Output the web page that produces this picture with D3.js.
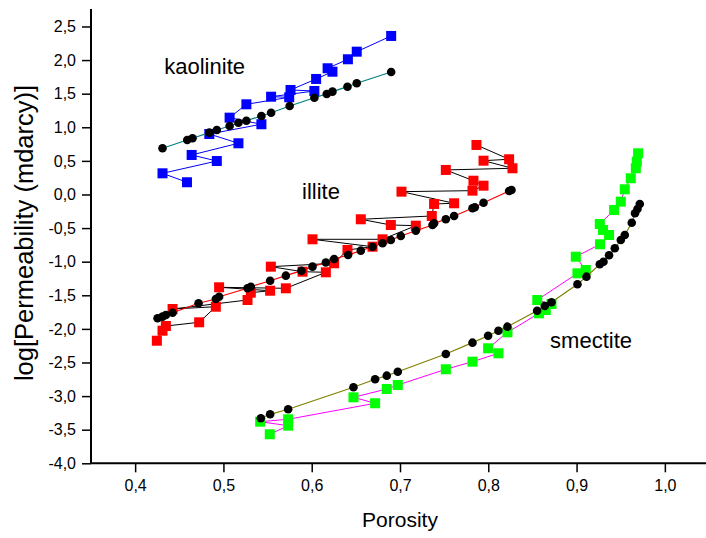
<!DOCTYPE html>
<html>
<head>
<meta charset="utf-8">
<script src="https://cdn.jsdelivr.net/npm/d3@7"></script>
<style>
  html, body { margin: 0; padding: 0; background: #fff; }
  svg { display: block; }
  text { font-family: "Liberation Sans", Arial, sans-serif; }
</style>
</head>
<body>
<svg id="chart" width="706" height="538"></svg>
<script>
// ---- Data (porosity, log permeability) ----
const kaolinitePorosityMeas = [0.4587,0.431,0.4925,0.464,0.517,0.484,0.543,0.507,0.526,0.5745,0.554,0.603,0.576,0.605,0.6235,0.618,0.641,0.651,0.690];
const kaolinitePermMeas     = [0.182,0.315,0.498,0.588,0.762,0.900,1.045,1.143,1.342,1.446,1.455,1.540,1.555,1.719,1.827,1.878,2.012,2.125,2.359];
const kaolinitePorosityModel = [0.431,0.459,0.465,0.484,0.4925,0.507,0.517,0.526,0.543,0.554,0.575,0.603,0.617,0.6235,0.6405,0.651,0.690];
const kaolinitePermModel     = [0.688,0.811,0.836,0.920,0.960,1.019,1.068,1.098,1.168,1.217,1.317,1.440,1.496,1.530,1.604,1.655,1.823];

const illitePorosityMeas = [0.4246,0.431,0.4348,0.4725,0.4914,0.4424,0.5273,0.531,0.5529,0.4951,0.5707,0.616,0.5896,0.5537,0.6254,0.6405,0.6689,0.6009,0.6802,0.7179,0.6896,0.6556,0.736,0.7386,0.7613,0.7017,0.7821,0.7946,0.7832,0.7519,0.8274,0.7946,0.8236,0.7866];
const illitePermMeas     = [-2.176,-2.027,-1.957,-1.902,-1.670,-1.704,-1.570,-1.461,-1.432,-1.381,-1.396,-1.158,-1.149,-1.074,-1.024,-0.826,-0.777,-0.667,-0.667,-0.464,-0.454,-0.369,-0.320,-0.141,-0.131,0.042,0.057,0.131,0.205,0.365,0.390,0.503,0.524,0.737];
const illitePorosityModel = [0.4254,0.431,0.4348,0.4424,0.4718,0.4914,0.4951,0.5273,0.531,0.5529,0.5707,0.5884,0.6009,0.616,0.6254,0.6412,0.6556,0.6689,0.6802,0.6896,0.7009,0.7179,0.7368,0.7386,0.7519,0.7613,0.7821,0.7847,0.7946,0.8236,0.8263];
const illitePermModel     = [-1.842,-1.818,-1.793,-1.759,-1.619,-1.555,-1.521,-1.396,-1.372,-1.283,-1.208,-1.134,-1.074,-1.012,-0.960,-0.900,-0.836,-0.777,-0.726,-0.677,-0.618,-0.539,-0.454,-0.429,-0.369,-0.320,-0.205,-0.190,-0.122,0.052,0.067];

const smectitePorosityMeas = [0.5525,0.5733,0.5416,0.5733,0.6718,0.6473,0.685,0.6975,0.7519,0.7821,0.8115,0.7998,0.8217,0.8575,0.8651,0.8716,0.8555,0.9010,0.9104,0.8991,0.9266,0.9368,0.930,0.9263,0.9425,0.9501,0.9546,0.9614,0.9671,0.9682,0.9697];
const smectitePermMeas     = [-3.568,-3.440,-3.381,-3.345,-3.107,-3.018,-2.894,-2.835,-2.601,-2.488,-2.363,-2.289,-2.051,-1.768,-1.719,-1.629,-1.570,-1.173,-1.124,-0.926,-0.741,-0.603,-0.528,-0.439,-0.231,-0.107,0.077,0.241,0.390,0.488,0.613];
const smectitePorosityModel = [0.5424,0.5529,0.5733,0.6473,0.6718,0.6850,0.6975,0.7519,0.7821,0.7998,0.8115,0.8217,0.8553,0.864,0.8716,0.9010,0.9112,0.9263,0.9305,0.9368,0.9433,0.9501,0.9546,0.9625,0.9662,0.969,0.9716];
const smectitePermModel     = [-3.330,-3.271,-3.196,-2.869,-2.750,-2.696,-2.637,-2.374,-2.205,-2.101,-2.027,-1.967,-1.729,-1.659,-1.604,-1.336,-1.223,-1.039,-1.000,-0.905,-0.801,-0.677,-0.603,-0.420,-0.280,-0.216,-0.141];

const xTicks = [0.4,0.5,0.6,0.7,0.8,0.9,1.0];
const yTicks = [-4.0,-3.5,-3.0,-2.5,-2.0,-1.5,-1.0,-0.5,0.0,0.5,1.0,1.5,2.0,2.5];
const groupLabels = ["kaolinite","illite","smectite"];
const xTitle = "Porosity";
const yTitle = "log[Permeability (mdarcy)]";

// ---- Layout ----
const svg = d3.select("#chart");
const x = d3.scaleLinear().domain([0.35, 1.05]).range([91, 709]);
const y = d3.scaleLinear().domain([-4.0, 2.76]).range([463.3, 9]);
const comma = v => d3.format(".1f")(v).replace(".", ",").replace("\u2212", "-");

function zip(xs, ys) { return xs.map((v, i) => ({x: v, y: ys[i]})); }

const series = [
  {pts: zip(kaolinitePorosityMeas, kaolinitePermMeas), line: "#0000ff", fill: "#0000ff", sym: "sq", lw: 1},
  {pts: zip(kaolinitePorosityModel, kaolinitePermModel), line: "#008080", fill: "#000000", sym: "ci", lw: 1.2},
  {pts: zip(illitePorosityMeas, illitePermMeas), line: "#000000", fill: "#ff0000", sym: "sq", lw: 1},
  {pts: zip(illitePorosityModel, illitePermModel), line: "#ff0000", fill: "#000000", sym: "ci", lw: 1.2},
  {pts: zip(smectitePorosityMeas, smectitePermMeas), line: "#ff00ff", fill: "#00ff00", sym: "sq", lw: 1},
  {pts: zip(smectitePorosityModel, smectitePermModel), line: "#808000", fill: "#000000", sym: "ci", lw: 1.2}
];

const lineGen = d3.line().x(d => x(d.x)).y(d => y(d.y));

series.forEach(s => {
  const g = svg.append("g");
  g.append("path").datum(s.pts)
    .attr("d", lineGen).attr("fill", "none")
    .attr("stroke", s.line).attr("stroke-width", s.lw);
  if (s.sym === "sq") {
    g.selectAll("rect").data(s.pts).join("rect")
      .attr("x", d => x(d.x) - 5).attr("y", d => y(d.y) - 5)
      .attr("width", 10).attr("height", 10).attr("fill", s.fill);
  } else {
    g.selectAll("circle").data(s.pts).join("circle")
      .attr("cx", d => x(d.x)).attr("cy", d => y(d.y))
      .attr("r", 4.3).attr("fill", s.fill);
  }
});

// ---- Axes ----
const xMinor = d3.range(0.35, 1.06, 0.05).map(v => +v.toFixed(2));
const yMinor = d3.range(-4.0, 2.76, 0.25).map(v => +v.toFixed(2));

const xAxisG = svg.append("g").attr("transform", "translate(0,463.3)");
xAxisG.call(d3.axisBottom(x).tickValues(xMinor).tickSize(5).tickFormat(""));
xAxisG.call(d3.axisBottom(x).tickValues(xTicks).tickSize(9).tickPadding(7).tickFormat(comma));
xAxisG.selectAll(".domain").attr("stroke-width", 2).attr("d", "M91,0H709");
xAxisG.selectAll(".tick line").attr("stroke-width", 1.5);
xAxisG.selectAll("text").attr("font-size", 16).attr("fill", "#000").attr("font-family", "Liberation Sans, Arial, sans-serif");

const yAxisG = svg.append("g").attr("transform", "translate(91,0)");
yAxisG.call(d3.axisLeft(y).tickValues(yMinor).tickSize(5).tickFormat(""));
yAxisG.call(d3.axisLeft(y).tickValues(yTicks).tickSize(9).tickPadding(6).tickFormat(comma));
yAxisG.selectAll(".domain").attr("stroke-width", 2).attr("d", "M0,9V463.3");
yAxisG.selectAll(".tick line").attr("stroke-width", 1.5);
yAxisG.selectAll("text").attr("font-size", 16).attr("fill", "#000").attr("font-family", "Liberation Sans, Arial, sans-serif");

// ---- Titles ----
svg.append("text").attr("x", 400).attr("y", 527).attr("text-anchor", "middle")
  .attr("font-size", 21).text(xTitle);
svg.append("text").attr("transform", "translate(33,233) rotate(-90)")
  .attr("text-anchor", "middle").attr("font-size", 25.5).text(yTitle);

// ---- Group labels ----
const labelPos = [[0.433, 1.79], [0.589, -0.06], [0.870, -2.28]];
groupLabels.forEach((t, i) => {
  svg.append("text").attr("x", x(labelPos[i][0])).attr("y", y(labelPos[i][1]))
    .attr("font-size", 22).text(t);
});
</script>
</body>
</html>
